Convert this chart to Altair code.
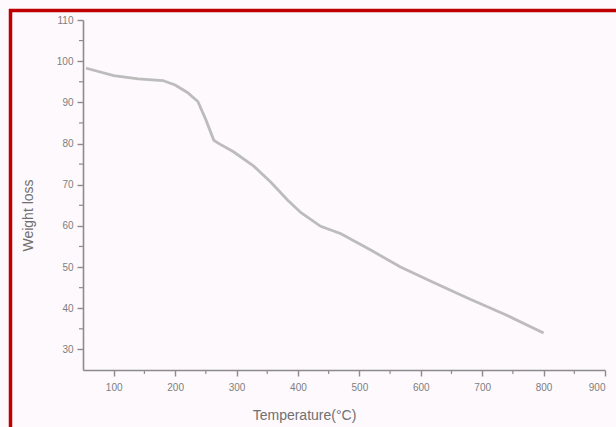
import altair as alt
import pandas as pd

temperature = [55, 60, 100, 140, 180, 200, 220, 237, 250, 263, 270, 295, 328, 356,
               383, 405, 437, 470, 520, 567, 620, 676, 740, 800]
weight = [98.3, 98.1, 96.5, 95.7, 95.3, 94.2, 92.4, 90.2, 85.8, 80.8, 80.1, 78.0, 74.5, 70.6,
          66.3, 63.2, 59.9, 58.1, 54.0, 50.0, 46.3, 42.5, 38.3, 34.0]

x_ticks = [100, 200, 300, 400, 500, 600, 700, 800, 900]
y_ticks = [30, 40, 50, 60, 70, 80, 90, 100, 110]
x_minor = [150, 250, 350, 450, 550, 650, 750, 850]
y_minor = [35, 45, 55, 65, 75, 85, 95, 105]

df = pd.DataFrame({"T": temperature, "W": weight})
xm = pd.DataFrame({"T": x_minor})
ym = pd.DataFrame({"W": y_minor})

gray = "#8c8c8c"
font = "Liberation Sans"
xscale = alt.Scale(domain=[50, 900], nice=False, zero=False)
yscale = alt.Scale(domain=[25, 110], nice=False, zero=False)

line = alt.Chart(df).mark_line(color="#bcbcbc", strokeWidth=2.8, clip=True).encode(
    x=alt.X("T:Q", scale=xscale,
            axis=alt.Axis(values=x_ticks, title="Temperature(°C)", grid=False,
                          domainColor=gray, domainWidth=1.6, tickColor=gray, tickSize=6,
                          tickWidth=1.4, labelColor="#7e7e7e", labelFontSize=10,
                          labelPadding=6, labelFont=font,
                          titleColor="#707070", titleFontSize=14, titleFontWeight="normal",
                          titleFont=font,
                          titleX=221, titleY=45, titleBaseline="middle", titleAnchor="middle")),
    y=alt.Y("W:Q", scale=yscale,
            axis=alt.Axis(values=y_ticks, title="Weight loss", grid=False,
                          domainColor=gray, domainWidth=1.6, tickColor=gray, tickSize=6,
                          tickWidth=1.4, labelColor="#7e7e7e", labelFontSize=10,
                          labelPadding=4, labelFont=font,
                          titleColor="#707070", titleFontSize=14, titleFontWeight="normal",
                          titleFont=font,
                          titleX=-55, titleY=195, titleAngle=-90,
                          titleBaseline="middle", titleAnchor="middle")),
)

xminor = alt.Chart(xm).mark_rule(color=gray, strokeWidth=1.2, clip=False).encode(
    x=alt.X("T:Q", scale=xscale), y=alt.value(350), y2=alt.value(354))
yminor = alt.Chart(ym).mark_rule(color=gray, strokeWidth=1.2, clip=False).encode(
    y=alt.Y("W:Q", scale=yscale), x=alt.value(-4), x2=alt.value(0))

border_top = alt.Chart(pd.DataFrame({"a": [0]})).mark_rule(
    color="#c00000", strokeWidth=3.5, clip=False).encode(
    x=alt.value(-74), x2=alt.value(540), y=alt.value(-9.5))
border_left = alt.Chart(pd.DataFrame({"a": [0]})).mark_rule(
    color="#c00000", strokeWidth=3.5, clip=False).encode(
    x=alt.value(-72.5), y=alt.value(-11), y2=alt.value(410))

chart = alt.layer(line, xminor, yminor, border_top, border_left).properties(
    width=522, height=350,
    autosize=alt.AutoSizeParams(type="none"),
    padding={"left": 83, "top": 20, "right": 11, "bottom": 57},
    background="#fdf9fc",
).configure_view(stroke=None)

chart.save("out.html", embed_options={"renderer": "svg", "actions": False})
